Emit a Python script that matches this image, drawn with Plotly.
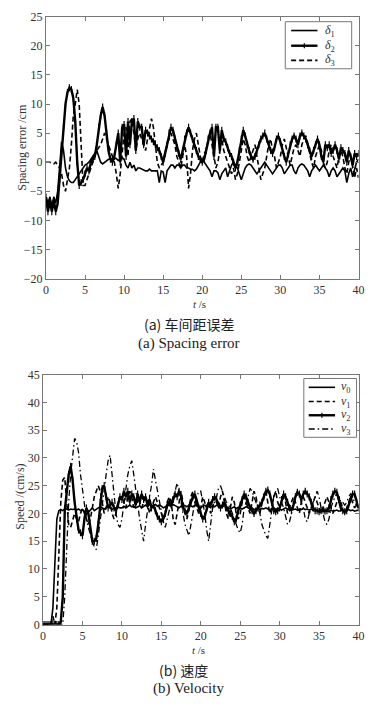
import plotly.graph_objects as go

T_STEP = 0.25  # sampling step of the hand-read series (s)

# ---------- (a) spacing error, cm ----------
delta1 = [
    -6, -7, -6, -7.5,  -6, -7, -5, -1,  3.5, 2, -1, -2.5,  -3.2, -3.5, -3.5, -3,
    -2.5, -2, -1.5, -1,  -0.5, -0.3, 0, 0.5,  1, 1.5, 2, 1,  0, -0.3, 0, 0.3,
    0.5, 0.5, 0.7, 0.8,  0.6, 0.3, 0.5, 0.8,  0.5, -0.5, -1, 0,  -1, -0.5, -1.5, -1,
    -1, -1.2, -1.3, -1.5,  -1.5, -1.2, -1.5, -1.5,  -1.6, -1.5, -3.5, -1.5,  -1.7, -3.5, -1.5, -1,
    -0.5, -0.5, -1, -0.5,  -0.5, -1, -0.5, -0.5,  -1, -1, -1.2, -1.2,  -1.5, -1.2, -0.5, 0,
    0.5, 0, -0.5, -1,  -1.5, -2.5, -1.5, -1.5,  -1.8, -3, -2, -1.5,  -1, -2.5, -1.5, -0.5,
    0, -0.5, -1, -2,  -3, -2, -1, -0.5,  -0.3, -0.5, -1, -1.5,  -2, -1.5, -1, -0.5,
    0, -0.5, -1, -1.5,  -2, -1.5, -1, -0.5,  -0.5, -1, -2, -1.5,  -1, -0.5, -0.5, -1.5,
    -2, -1, -0.5, -0.3,  -0.5, -1, -1.5, -2.5,  -1.5, -1, -0.5, -1,  -1.5, -1, -0.5, -1,
    -1.5, -2.5, -1.5, -1,  -1.5, -2.5, -2, -1.5,  -1, -1.5, -3.5, -2,  -1, -2.5, -1, 0,
    0.5,
]
delta2 = [
    -6, -8.5, -6.5, -8.5,  -6.5, -8.5, -7, -3,  2, 6, 10, 12,  12.8, 12.5, 11, 7,
    0, -4, -3.5, -3,  -2, -1, -1.5, 0,  0.5, 1, 3, 6,  8, 9.5, 8, 5,
    2, 0.5, 0, 1,  3, 5, 0, 6,  6.5, 1, 7, 3,  7, 7.5, 2, 7,
    6, 6, 3, 5.5,  5, 4.5, 4, 3.5,  3, 2.5, 2, 1,  0, 1.5, 3, 5,
    6, 5.5, 4, 2.5,  1.5, 0.5, 2, 4,  5, 6, 5, 4,  3, 2, 1, 0.5,
    0, 0.5, 2, 4,  5, 6, 1, 6,  6, 2, 5.5, 4,  3.5, 2.5, 1.5, 1,
    0, -1, 0, 2,  4, 5.5, 4.5, 3,  2, 1, 0.5, 1,  2, 3, 4, 4.5,
    5, 4, 3, 2,  1.5, 2.5, 4, 4.5,  3.5, 2, 1, 0,  1.5, 3, 4, 4.5,
    4, 3, 4.5, 5,  4.5, 4, 3, 2,  1, 2, 3, 4,  3, 1, 0, 3,
    2.5, 3, 1.5, 2,  3, 2, 0.5, 2.5,  2, 1.5, 0, 2,  1, -0.5, 1.5, 1,
    1.5,
]
delta3 = [
    0, 0, 0, -0.2,  -0.3, 0, -0.5, -1,  -2, -4, -5, -3,  -1, 3, 8, 10,
    12.5, 10, 4, -4,  -4, -3, -2, -1,  0, 1, 2, 2.5,  3, 4, 5, 4,
    3, 2, 1, 0,  -2, -4.5, -2, 2,  5, 6, 1, 7,  7.5, 5, 2, 4,
    5, 4, 3, 2,  4, 6, 7.5, 6,  3, 0, -1, -0.5,  0, 2, 3, 4,
    5, 4, 3, 1,  0, -1, 1, 3,  1, -4.5, -2, 2,  4, 5, 3, 1,
    0, 1.5, 2, 4,  5, 3, 1, -1,  0, 2, 4, 2,  1, 0, -1, -2,
    -1, -3, -2, 0,  2, 4, 3, 1,  0, 1, 2, 3,  1, -1, -3, -2,
    -1, 1, 3, 4,  2, 1, -1, 0,  1, 3, 4, 2.5,  1, -0.5, 1, 2.5,
    3, 2, 1, 3,  4, 4.5, 3, 1,  0, -1, 1, 2,  3, 2, 0, -1,
    0, 2, 3, 1,  0, -1, 1, 2,  1, -1, -2, 0,  1, -1, -2.7, -1,
    -2.7,
]

# ---------- (b) speed, cm/s ----------
v0 = [
    0, 0, 0, 0,  0, 3, 12, 19,  20.5, 20.7, 20.5, 20.8,  20.8, 20.6, 20.8, 20.7,
    20.8, 20.6, 20.8, 20.5,  20.7, 20.3, 19.8, 20.2,  20.7, 21, 20.5, 20.8,  21, 21.2, 21, 20.8,
    21, 21.2, 21, 20.7,  21, 20.8, 21.2, 21,  21, 21.3, 21, 21.2,  21.5, 21.2, 21.3, 21,
    21.2, 21.4, 21, 21.3,  21.5, 21.2, 21.6, 21.3,  21.4, 21.6, 21.3, 21.5,  21.3, 21, 21.2, 21.4,
    21.5, 21.3, 21.6, 21.4,  21.2, 21, 21.3, 21.5,  21.4, 21.2, 21.5, 21.3,  21.2, 21.5, 21.3, 21.1,
    21, 21.3, 21.5, 21.2,  21.3, 21.1, 21.4, 21.2,  21.5, 21.3, 21, 21.2,  21.4, 21.2, 21, 20.8,
    21, 21.2, 20.9, 21.1,  21, 20.8, 21, 21.2,  21, 20.8, 21, 20.7,  20.8, 21, 20.7, 20.9,
    20.8, 21, 20.8, 20.6,  20.8, 21, 20.7, 20.9,  20.8, 20.6, 20.8, 21,  20.8, 20.6, 20.9, 20.7,
    20.8, 20.6, 20.8, 20.7,  20.9, 20.7, 20.8, 20.6,  20.8, 20.5, 20.7, 20.6,  20.5, 20.7, 20.4, 20.6,
    20.5, 20.3, 20.6, 20.4,  20.5, 20.6, 20.4, 20.5,  20.6, 20.4, 20.5, 20.7,  20.5, 20.6, 20.4, 20.5,
    20.6,
]
v1 = [
    0, 0, 0, 0,  0, 1.5, 0, 3,  12, 22, 26, 26.5,  22, 18, 17.5, 19,
    20, 19, 18.5, 20,  21, 20, 19, 18,  19, 21, 23, 24,  25, 24, 22, 20,
    21, 23, 22, 20,  19, 20, 22, 23,  23, 22, 21, 23,  24, 23, 21, 22,
    23.5, 22, 21, 22,  23, 22, 20, 21,  22, 23, 22, 21,  20, 19, 20, 22,
    23, 22, 19, 18,  20, 22, 24, 22,  20, 19, 21, 23,  24, 22, 21, 20,
    21, 23, 22, 21,  22, 20, 21, 23,  22, 21, 23, 24,  22, 20, 19, 21,
    23, 22, 20, 19,  20, 22, 23, 22,  21, 20, 22, 24,  23, 21, 20, 22,
    23, 24, 22, 20,  21, 23, 24, 22,  21, 22, 23, 22,  20, 21, 22, 23,
    22, 21, 20, 22,  23, 22, 21, 20,  21, 22, 23, 22,  21, 20, 21, 22,
    23, 22, 21, 20,  21, 22, 23, 22,  21, 20, 21, 22,  23, 22, 21, 21.5,
    21,
]
v2 = [
    0, 0, 0, 0,  0, 0, 0, 0,  0, 0.5, 5, 20.5,  24, 27, 28.5, 26,
    22, 19, 17, 16.5,  16, 19, 21, 20,  17, 15, 15, 15.5,  18, 22, 24.5, 25,
    23, 21, 21.5, 22,  21, 20.5, 21.5, 23,  22.5, 24, 23, 24,  22, 23.5, 23, 21.5,
    23.5, 22, 23.5, 22.5,  23, 21.5, 22.5, 21,  21.5, 20.5, 19.5, 19,  18.5, 19, 20, 21.5,
    22, 21.5, 22.5, 23.5,  23, 24, 23, 21,  20.5, 20, 21, 22,  23, 23.5, 22, 21,
    20, 19, 19.5, 21,  22, 21.5, 22.5, 23,  22.5, 21.5, 21, 21.5,  22, 21, 20.5, 20,
    19.5, 18.5, 19, 20.5,  21.5, 22.5, 23.5, 23,  22, 21, 20.5, 20,  20.5, 21, 21.5, 22,
    23, 24, 24.2, 23.5,  22, 20.5, 20.3, 20.5,  21, 22.5, 23.5, 23,  22, 21, 20.5, 21.5,
    23, 23.8, 23.5, 22.5,  23.5, 24, 23.5, 23,  22, 21, 20.5, 20.5,  20.3, 20.5, 20.6, 20.4,
    20.5, 21, 22.5, 23.5,  24, 23.8, 22.5, 21,  20.5, 20.3, 20.5, 21.5,  22.5, 23.5, 23.5, 22,
    21,
]
v3 = [
    0, 0, 0, 0,  0, 0, 0, 0,  0, 0, 0, 5,  15, 22, 27, 30,
    33.5, 33, 31, 27,  24, 21, 19, 17.5,  16, 15, 14, 13.5,  16, 19, 22, 24,
    27, 29.5, 30.5, 27,  23, 20, 18, 17.5,  19, 22, 24, 27,  28.5, 29.5, 27, 24,
    22, 19, 17, 15,  18, 21, 23, 25,  28, 26, 24, 22,  20, 18.5, 17.5, 19,
    21, 22, 23, 24,  25.5, 24, 22, 20,  18, 17, 16, 18,  20, 22, 23, 24,
    24, 22, 20, 17,  15, 18, 21, 22,  23, 24.5, 25, 24,  23, 22, 21.5, 21,
    20, 19, 18, 17,  16.5, 18, 21, 22,  23, 24.5, 24, 23,  22, 21, 20, 18,
    17, 16, 15.5, 18,  21, 23, 24, 24.5,  23, 22, 21, 19.5,  18, 18.5, 20, 22,
    23, 24, 23.5, 22,  21, 19, 18.5, 20,  21, 22, 23, 24,  23, 21, 20, 18.5,
    18, 19, 21, 22,  23, 23.5, 23, 22,  22, 21.5, 22, 23,  23.5, 23, 22, 21.5,
    21,
]

x_ticks = [0, 5, 10, 15, 20, 25, 30, 35, 40]
legend_a = ["<i>δ</i><sub>1</sub>", "<i>δ</i><sub>2</sub>", "<i>δ</i><sub>3</sub>"]
legend_b = ["<i>v</i><sub>0</sub>", "<i>v</i><sub>1</sub>", "<i>v</i><sub>2</sub>", "<i>v</i><sub>3</sub>"]

for s in (delta1, delta2, delta3, v0, v1, v2, v3):
    assert len(s) == len(delta1), len(s)
t = [i * T_STEP for i in range(len(delta1))]

SERIF = "Liberation Serif"
CJK = "Noto Sans CJK SC"
W, H = 386, 707
INK = "#333"
FRAME = "#777"


def px(x):
    return x / W


def py(y):
    return 1 - y / H


DASH = "5px,3px"
DASHDOT = "6px,3px,1.5px,3px"
MARK = dict(symbol="line-ns", size=5, line=dict(color="black", width=1.2))

styles_a = [
    dict(mode="lines", line=dict(color="black", width=1.6)),
    dict(mode="lines+markers", line=dict(color="black", width=2.4), marker=MARK),
    dict(mode="lines", line=dict(color="black", width=1.6, dash=DASH)),
]
styles_b = [
    dict(mode="lines", line=dict(color="black", width=1.6)),
    dict(mode="lines", line=dict(color="black", width=1.6, dash=DASH)),
    dict(mode="lines+markers", line=dict(color="black", width=2.4), marker=MARK),
    dict(mode="lines", line=dict(color="black", width=1.3, dash=DASHDOT)),
]

fig = go.Figure()
for ys, nm, st in zip((delta1, delta2, delta3), legend_a, styles_a):
    fig.add_trace(go.Scatter(x=t, y=ys, name=nm, xaxis="x", yaxis="y", **st))
for ys, nm, st in zip((v0, v1, v2, v3), legend_b, styles_b):
    fig.add_trace(go.Scatter(x=t, y=ys, name=nm, xaxis="x2", yaxis="y2", **st))

axis_common = dict(showgrid=False, zeroline=False, showline=True, linecolor=FRAME, linewidth=1,
                   mirror="allticks", ticks="inside", ticklen=4, tickcolor=FRAME,
                   tickfont=dict(family=SERIF, size=12, color=INK))

fig.update_layout(
    width=W, height=H, autosize=False,
    paper_bgcolor="white", plot_bgcolor="white",
    margin=dict(l=0, r=0, t=0, b=0),
    showlegend=False,
    xaxis=dict(domain=[px(44), px(364)], range=[0, 40], tickvals=x_ticks, anchor="y", **axis_common),
    yaxis=dict(domain=[py(277), py(10)], range=[-20, 25], dtick=5, anchor="x", **axis_common),
    xaxis2=dict(domain=[px(41), px(364)], range=[0, 40], tickvals=x_ticks, anchor="y2", **axis_common),
    yaxis2=dict(domain=[py(630), py(375)], range=[0, 45], dtick=5, anchor="x2", **axis_common),
)

shapes = []
ann = []


def legend_box(x0, x1, y0, y1, rows, lx0, lx1, tx, names, styles):
    shapes.append(dict(type="rect", xref="paper", yref="paper", x0=px(x0), x1=px(x1),
                       y0=py(y1), y1=py(y0), line=dict(color=FRAME, width=1), fillcolor="white", layer="above"))
    for ry, nm, st in zip(rows, names, styles):
        ln = st["line"]
        shapes.append(dict(type="line", xref="paper", yref="paper", x0=px(lx0), x1=px(lx1),
                           y0=py(ry), y1=py(ry), layer="above",
                           line=dict(color="black", width=ln["width"], dash=ln.get("dash", "solid"))))
        if "marker" in st:
            xm = (lx0 + lx1) / 2
            shapes.append(dict(type="line", xref="paper", yref="paper", x0=px(xm), x1=px(xm),
                               y0=py(ry - 2.5), y1=py(ry + 2.5), layer="above",
                               line=dict(color="black", width=1.2)))
        ann.append(dict(text=nm, x=px(tx), y=py(ry), xanchor="left", yanchor="middle",
                        font=dict(family=SERIF, size=12, color=INK)))


legend_box(289, 357, 15, 63, [24, 39.5, 54.5], 295, 322, 328, legend_a, styles_a)
legend_box(308, 362, 379, 439, [388, 402.5, 416.5, 430.5], 313, 340, 344, legend_b, styles_b)

texts = [
    ("Spacing error /cm", 20, 143, -90, SERIF, 12, INK),
    ("<i>t</i> /s", 201, 303, 0, SERIF, 11, INK),
    ("(a) 车间距误差", 190, 323, 0, CJK, 14, "#222"),
    ("(a) Spacing error", 190, 343, 0, SERIF, 15, "#222"),
    ("Speed /(cm/s)", 17, 500, -90, SERIF, 12, INK),
    ("<i>t</i> /s", 200, 656, 0, SERIF, 11, INK),
    ("(b) 速度", 185, 676, 0, CJK, 14, "#222"),
    ("(b) Velocity", 190, 695, 0, SERIF, 15, "#222"),
]
for txt, x, y, ang, fam, sz, col in texts:
    ann.append(dict(text=txt, x=px(x), y=py(y), textangle=ang, xanchor="center", yanchor="middle",
                    font=dict(family=fam, size=sz, color=col)))
for a in ann:
    a.update(xref="paper", yref="paper", showarrow=False)

fig.update_layout(shapes=shapes, annotations=ann)

fig.write_html("out.html", config={"displayModeBar": False},
               post_script="document.body.style.margin='0';")
